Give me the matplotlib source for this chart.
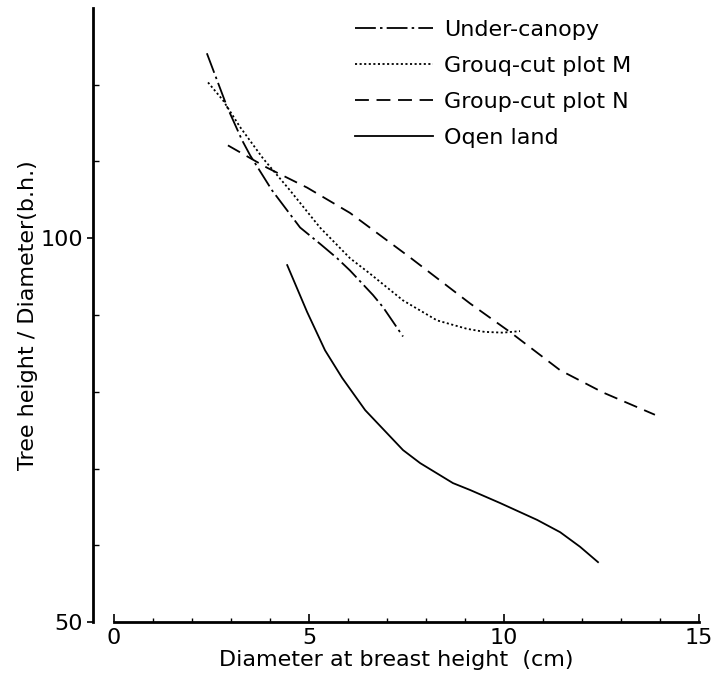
import matplotlib
matplotlib.use("Agg")
import matplotlib.pyplot as plt
from matplotlib.ticker import MultipleLocator, FixedLocator

plt.rcParams["font.family"] = ["DejaVu Sans"]
plt.rcParams["lines.scale_dashes"] = False

# Under-canopy (dash-dot)
under_x = [2.38, 2.90, 3.28, 3.49, 4.05, 4.77, 5.30, 5.72, 6.05, 6.64, 6.90, 7.41]
under_y = [124.1, 117.1, 112.8, 110.8, 106.25, 101.4, 99.2, 97.4, 95.8, 92.6, 91.0, 87.2]

# Group-cut plot M (dotted)
plot_m_x = [2.41, 2.79, 3.23, 3.82, 4.51, 5.28, 6.05, 6.56, 7.41, 8.28, 9.05, 9.5, 9.97, 10.41]
plot_m_y = [120.3, 118.0, 114.5, 110.4, 106.25, 101.4, 97.4, 95.4, 91.9, 89.3, 88.2, 87.8, 87.7, 87.9]

# Group-cut plot N (dashed)
plot_n_x = [2.92, 3.92, 4.95, 6.05, 7.59, 9.13, 10.15, 11.44, 12.54, 13.87]
plot_n_y = [112.1, 109.2, 106.6, 103.3, 97.5, 91.5, 87.8, 82.8, 79.9, 77.0]

# Open land (solid)
open_x = [4.44, 4.95, 5.41, 5.85, 6.44, 7.41, 7.85, 8.69, 9.13, 9.90, 10.85, 11.44, 11.95, 12.41]
open_y = [96.5, 90.4, 85.4, 81.8, 77.6, 72.4, 70.7, 68.1, 67.2, 65.5, 63.3, 61.7, 59.8, 57.8]

labels = ["Under-canopy", "Grouq-cut plot M", "Group-cut plot N", "Oqen land"]

fig = plt.figure(figsize=(7.14, 6.78), dpi=100)
ax = fig.add_axes([93 / 714, 56 / 678, (699 - 93) / 714, (622 - 8) / 678])

lw = 1.3
ax.plot(under_x, under_y, color="black", lw=lw, dashes=(15, 3, 1.8, 3), label=labels[0])
ax.plot(plot_m_x, plot_m_y, color="black", lw=lw, dashes=(1.5, 1.8), label=labels[1])
ax.plot(plot_n_x, plot_n_y, color="black", lw=lw, dashes=(10, 5.5), label=labels[2])
ax.plot(open_x, open_y, color="black", lw=lw, label=labels[3])

ax.set_xlim(-0.54, 15.0)
ax.set_ylim(50, 130)

for side in ["top", "right"]:
    ax.spines[side].set_visible(False)
ax.spines["bottom"].set_bounds(0, 15)
ax.spines["bottom"].set_linewidth(2.0)
ax.spines["left"].set_linewidth(2.0)

ax.xaxis.set_major_locator(MultipleLocator(5))
ax.xaxis.set_minor_locator(MultipleLocator(1))
ax.tick_params(axis="x", which="major", direction="in", length=6, width=1.2,
               labelsize=16, pad=4)
ax.tick_params(axis="x", which="minor", direction="in", length=3, width=1.0)

ax.yaxis.set_major_locator(FixedLocator([50, 100]))
ax.yaxis.set_minor_locator(FixedLocator([60, 70, 80, 90, 110, 120]))
ax.tick_params(axis="y", which="major", direction="out", length=4, width=1.2,
               labelsize=16, pad=3)
ax.tick_params(axis="y", which="minor", direction="in", length=4, width=1.0)

ax.set_xlabel("Diameter at breast height  (cm)", fontsize=16, labelpad=2)
ax.set_ylabel("Tree height / Diameter(b.h.)", fontsize=16, labelpad=2)

ax.legend(loc="upper left", bbox_to_anchor=(355 / 714, 1 - 20 / 678),
          bbox_transform=fig.transFigure, frameon=False, fontsize=16,
          handlelength=3.5, handletextpad=0.5, labelspacing=0.72,
          borderpad=0, borderaxespad=0)

fig.savefig("out.png", dpi=100)
